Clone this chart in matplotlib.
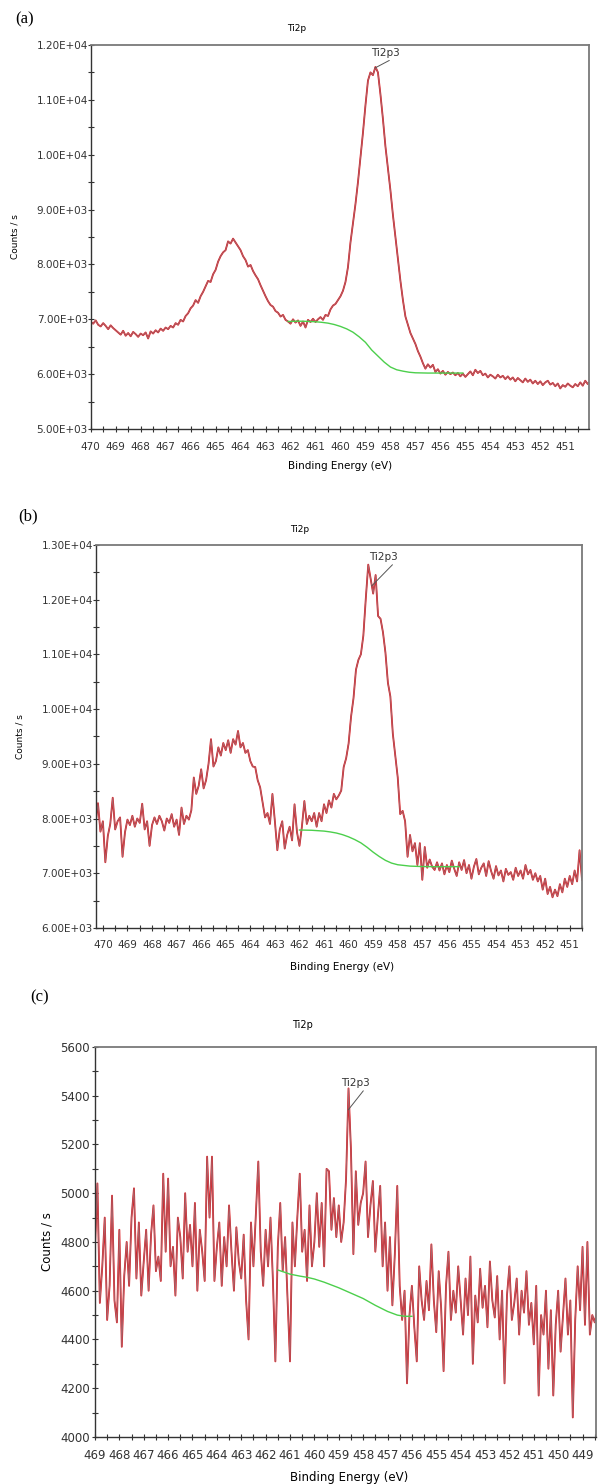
import numpy as np
import matplotlib
matplotlib.use("Agg")
from matplotlib import pyplot as plt
from matplotlib.ticker import MultipleLocator, FuncFormatter

plt.rcParams['font.family'] = ['DejaVu Sans']

# ---- (a) Ti2p spectrum, 0.1 eV steps from 470.0 eV
a_start = 470.0
a_counts = [6950, 6920, 6980, 6900, 6870, 6930, 6880, 6820, 6890, 6840,
            6800, 6760, 6720, 6790, 6700, 6750, 6690, 6770, 6730, 6680,
            6740, 6710, 6760, 6650, 6780, 6740, 6800, 6760, 6830, 6790,
            6850, 6820, 6880, 6850, 6930, 6900, 6990, 6960, 7060, 7110,
            7200, 7250, 7350, 7300, 7420, 7500, 7600, 7700, 7680, 7820,
            7900, 8050, 8150, 8220, 8260, 8420, 8380, 8470, 8400, 8330,
            8260, 8150, 8080, 7960, 7990, 7880, 7800, 7730, 7620, 7520,
            7420, 7330, 7260, 7230, 7150, 7120, 7050, 7080, 6990, 6960,
            6920, 7000, 6940, 6980, 6880, 6960, 6850, 6990, 6950, 7010,
            6950, 7000, 7040, 6990, 7080, 7060, 7180, 7250, 7280, 7350,
            7420, 7520, 7680, 7950, 8400, 8750, 9100, 9500, 9950, 10400,
            10900, 11350, 11500, 11450, 11600, 11500, 11100, 10650, 10150, 9750,
            9350, 8900, 8500, 8100, 7700, 7350, 7050, 6900, 6750, 6650,
            6550, 6420, 6320, 6200, 6100, 6180, 6120, 6170, 6040, 6090,
            6010, 6060, 5990, 6040, 6000, 6030, 5980, 6020, 5960, 6010,
            5950, 6000, 6050, 5980, 6080, 6020, 6060, 5980, 6010, 5940,
            5990, 5960, 5920, 5990, 5940, 5970, 5910, 5960, 5900, 5940,
            5870, 5930, 5890, 5850, 5920, 5860, 5900, 5830, 5880, 5820,
            5870, 5800, 5850, 5880, 5810, 5840, 5780, 5830, 5740, 5800,
            5770, 5830, 5790, 5760, 5820, 5780, 5850, 5790, 5880, 5820,
            5870]
a_bg_be = [462.1, 461.75, 461.5, 461.25, 461.0, 460.75, 460.5, 460.25, 460.0,
           459.75, 459.5, 459.25, 459.0, 458.75, 458.5, 458.25, 458.0, 457.75,
           457.5, 457.25, 457.0, 456.5, 456.0, 455.5, 455.1]
a_bg = [6960, 6965, 6965, 6960, 6955, 6945, 6930, 6905, 6870,
        6825, 6765, 6680, 6580, 6440, 6330, 6220, 6130, 6080,
        6055, 6035, 6025, 6020, 6020, 6020, 6020]

# ---- (b) Ti2p spectrum, 0.1 eV steps from 470.3 eV
b_start = 470.3
b_counts = [7900, 8280, 7760, 7950, 7200, 7680, 7900, 8380, 7800, 7950,
            8020, 7300, 7750, 7980, 7880, 8050, 7850, 8000, 7920, 8270,
            7800, 7950, 7500, 7880, 8020, 7900, 8050, 7950, 7780, 8000,
            7920, 8080, 7850, 7980, 7700, 8200, 7900, 8050, 7980, 8150,
            8750, 8450, 8600, 8900, 8550, 8700, 9000, 9450, 8950, 9050,
            9300, 9150, 9380, 9250, 9430, 9200, 9450, 9350, 9600, 9300,
            9380, 9200, 9250, 9050, 8950, 8940, 8700, 8570, 8300, 8020,
            8100, 7900, 8450, 7950, 7420, 7800, 7950, 7450, 7700, 7850,
            7600, 8260, 7750, 7500, 7850, 8320, 7900, 8050, 7950, 8100,
            7850, 8100, 7950, 8260, 8100, 8330, 8200, 8450, 8350, 8420,
            8510, 8940, 9100, 9370, 9860, 10200, 10720, 10900, 11000, 11340,
            12020, 12640, 12380, 12110, 12450, 11700, 11650, 11400, 11030, 10480,
            10230, 9550, 9150, 8750, 8080, 8140, 7950, 7300, 7700, 7400,
            7550, 7150, 7550, 6880, 7480, 7100, 7250, 7120, 7060, 7200,
            7050, 7180, 6980, 7150, 7020, 7230, 7080, 6950, 7200, 7060,
            7240, 7000, 7150, 6900, 7120, 7260, 6980, 7100, 7180, 6950,
            7220, 7040, 6900, 7130, 6960, 7050, 6850, 7080, 6970, 7020,
            6880, 7100, 6950, 7050, 6900, 7150, 6980, 7060, 6880, 7000,
            6850, 6950, 6700, 6900, 6620, 6750, 6560, 6700, 6580, 6800,
            6650, 6900, 6750, 6950, 6800, 7050, 6850, 7420, 6880]
b_bg_be = [462.0, 461.5, 461.0, 460.75, 460.5, 460.25, 460.0, 459.75, 459.5,
           459.25, 459.0, 458.75, 458.5, 458.25, 458.0, 457.5, 457.0, 456.5,
           456.0, 455.5]
b_bg = [7790, 7785, 7770, 7755, 7735, 7705, 7665, 7615, 7555,
        7475, 7385, 7305, 7235, 7185, 7155, 7130, 7122, 7120,
        7120, 7120]

# ---- (c) Ti2p spectrum, 0.1 eV steps from 469.0 eV
c_start = 469.0
c_counts = [4780, 5040, 4550, 4700, 4900, 4480, 4620, 4990, 4560, 4470,
            4850, 4370, 4660, 4800, 4620, 4900, 5020, 4650, 4880, 4580,
            4720, 4850, 4600, 4830, 4950, 4680, 4740, 4640, 5080, 4760,
            5060, 4700, 4780, 4580, 4900, 4820, 4650, 5000, 4760, 4870,
            4700, 4960, 4600, 4850, 4760, 4640, 5150, 4900, 5150, 4640,
            4780, 4880, 4620, 4820, 4700, 4950, 4760, 4600, 4860, 4720,
            4650, 4830, 4560, 4400, 4880, 4700, 4920, 5130, 4760, 4620,
            4850, 4700, 4900, 4640, 4310, 4780, 4960, 4680, 4820, 4560,
            4310, 4880, 4700, 4900, 5080, 4760, 4850, 4640, 4950, 4700,
            4800, 5000, 4780, 4960, 4700, 5100, 5090, 4850, 4980, 4820,
            4950, 4800, 4880, 5060, 5430, 5180, 4750, 5090, 4870, 4960,
            5000, 5130, 4820, 4950, 5050, 4760, 4900, 5030, 4700, 4880,
            4600, 4820, 4540, 4750, 5030, 4620, 4480, 4600, 4220, 4500,
            4620, 4450, 4310, 4700, 4560, 4480, 4640, 4520, 4790, 4560,
            4430, 4680, 4530, 4270, 4620, 4760, 4480, 4600, 4510, 4700,
            4560, 4420, 4650, 4500, 4740, 4300, 4580, 4470, 4690, 4530,
            4620, 4450, 4720, 4560, 4490, 4660, 4400, 4600, 4220, 4580,
            4700, 4480, 4550, 4650, 4420, 4600, 4510, 4680, 4460, 4550,
            4380, 4620, 4170, 4500, 4420, 4600, 4280, 4520, 4170, 4460,
            4600, 4350, 4500, 4650, 4420, 4560, 4080, 4480, 4700, 4520,
            4780, 4460, 4800, 4420, 4500, 4470, 4520]
c_bg_be = [461.5, 461.2, 461.0, 460.6, 460.3, 460.0, 459.6, 459.0, 458.5,
           458.0, 457.5, 457.0, 456.6, 456.3, 456.0]
c_bg = [4685, 4675, 4668, 4660, 4655, 4648, 4635, 4612, 4590,
        4568, 4540, 4515, 4500, 4495, 4495]

step = 0.1


def sci_fmt(v, pos):
    return "%.2E" % v


def style_axes(ax, fs, xpad, ypad):
    for s in ['left', 'bottom']:
        ax.spines[s].set_color('#333333')
        ax.spines[s].set_linewidth(1.0)
    for s in ['top', 'right']:
        ax.spines[s].set_color('#7a7a7a')
        ax.spines[s].set_linewidth(1.3)
    ax.xaxis.set_major_locator(MultipleLocator(1))
    ax.xaxis.set_minor_locator(MultipleLocator(0.5))
    ax.tick_params(which='both', direction='inout', length=4, width=0.8,
                   colors='#333333', top=False, right=False, labelsize=fs)
    ax.tick_params(axis='x', pad=xpad)
    ax.tick_params(axis='y', pad=ypad)


def draw_panel(ax, start, counts, bg_be, bg):
    be = start - step * np.arange(len(counts))
    ax.plot(be, counts, color='#e0161c', lw=1.3)
    ax.plot(be, counts, color='#a9656c', lw=0.7)
    ax.plot(bg_be, bg, color='#4ccf4c', lw=1.0)


fig = plt.figure(figsize=(6.03, 14.84), dpi=100)

# (a)
ax1 = fig.add_axes([0.1504, 0.7109, 0.8264, 0.2588])
draw_panel(ax1, a_start, a_counts, a_bg_be, a_bg)
ax1.set_xlim(470.0, 450.05)
ax1.set_ylim(5000, 12000)
ax1.yaxis.set_major_locator(MultipleLocator(1000))
ax1.yaxis.set_minor_locator(MultipleLocator(500))
ax1.yaxis.set_major_formatter(FuncFormatter(sci_fmt))
style_axes(ax1, 7.5, 7, 0)
ax1.text(0.414, 1.044, 'Ti2p', transform=ax1.transAxes, ha='center', va='center', fontsize=6.5)
ax1.annotate('Ti2p3', xy=(458.62, 11580), xytext=(458.2, 11860), ha='center', va='center',
             fontsize=7.5, color='#333333',
             arrowprops=dict(arrowstyle='-', color='#555555', lw=0.7, relpos=(0.85, 0.05),
                             shrinkA=0, shrinkB=0))
ax1.set_xlabel('Binding Energy (eV)', fontsize=7.5)
ax1.xaxis.label.set_va('center')
ax1.xaxis.set_label_coords(0.5, -0.096)
ax1.set_ylabel('Counts / s', fontsize=6.5)
ax1.yaxis.label.set_va('center')
ax1.yaxis.set_label_coords(-0.151, 0.5)

# (b)
ax2 = fig.add_axes([0.1584, 0.3747, 0.8068, 0.2581])
draw_panel(ax2, b_start, b_counts, b_bg_be, b_bg)
ax2.set_xlim(470.3, 450.5)
ax2.set_ylim(6000, 13000)
ax2.yaxis.set_major_locator(MultipleLocator(1000))
ax2.yaxis.set_minor_locator(MultipleLocator(500))
ax2.yaxis.set_major_formatter(FuncFormatter(sci_fmt))
style_axes(ax2, 7.5, 7, 0)
ax2.text(0.42, 1.039, 'Ti2p', transform=ax2.transAxes, ha='center', va='center', fontsize=6.5)
ax2.annotate('Ti2p3', xy=(459.06, 12250), xytext=(458.57, 12780), ha='center', va='center',
             fontsize=7.5, color='#333333',
             arrowprops=dict(arrowstyle='-', color='#555555', lw=0.7, relpos=(1.0, 0.3),
                             shrinkA=0, shrinkB=0))
ax2.set_xlabel('Binding Energy (eV)', fontsize=7.5)
ax2.xaxis.label.set_va('center')
ax2.xaxis.set_label_coords(0.507, -0.102)
ax2.set_ylabel('Counts / s', fontsize=6.5)
ax2.yaxis.label.set_va('center')
ax2.yaxis.set_label_coords(-0.156, 0.5)

# (c)
ax3 = fig.add_axes([0.1575, 0.0317, 0.8308, 0.2628])
draw_panel(ax3, c_start, c_counts, c_bg_be, c_bg)
ax3.set_xlim(469.0, 448.45)
ax3.set_ylim(4000, 5600)
ax3.yaxis.set_major_locator(MultipleLocator(200))
ax3.yaxis.set_minor_locator(MultipleLocator(100))
style_axes(ax3, 8.5, 6.5, 1.8)
ax3.text(0.415, 1.056, 'Ti2p', transform=ax3.transAxes, ha='center', va='center', fontsize=7)
ax3.annotate('Ti2p3', xy=(458.61, 5342), xytext=(458.33, 5452), ha='center', va='center',
             fontsize=7.5, color='#333333',
             arrowprops=dict(arrowstyle='-', color='#555555', lw=0.7, relpos=(1.0, 0.5),
                             shrinkA=0, shrinkB=0))
ax3.set_xlabel('Binding Energy (eV)', fontsize=8.5)
ax3.xaxis.label.set_va('center')
ax3.xaxis.set_label_coords(0.507, -0.103)
ax3.set_ylabel('Counts / s', fontsize=8.5)
ax3.yaxis.label.set_va('center')
ax3.yaxis.set_label_coords(-0.096, 0.5)

# panel letters
fig.text(0.040, 0.9872, '(a)', family='Liberation Serif', fontsize=12, ha='center', va='center')
fig.text(0.046, 0.6523, '(b)', family='Liberation Serif', fontsize=12, ha='center', va='center')
fig.text(0.066, 0.3282, '(c)', family='Liberation Serif', fontsize=12, ha='center', va='center')

fig.savefig('out.png', dpi=100)
